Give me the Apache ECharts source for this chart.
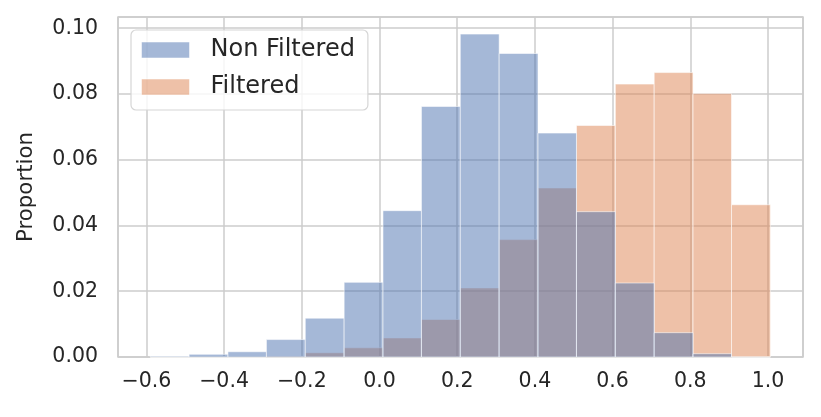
<!DOCTYPE html>
<html>
<head>
<meta charset="utf-8">
<script src="https://cdn.jsdelivr.net/npm/echarts@6/dist/echarts.min.js"></script>
<style>html,body{margin:0;padding:0;background:#fff;}#chart{width:821px;height:417px;}</style>
</head>
<body>
<div id="chart"></div>
<script>
// Bin edges (shared by both histograms)
const binEdges = [-0.590, -0.490, -0.390, -0.291, -0.191, -0.091, 0.009, 0.108, 0.208, 0.308, 0.408, 0.507, 0.607, 0.707, 0.807, 0.906, 1.006];
// Proportions per bin
const nonFiltered = [0.0002, 0.0008, 0.0016, 0.0053, 0.0118, 0.0227, 0.0445, 0.0762, 0.0982, 0.0923, 0.0681, 0.0442, 0.0225, 0.0074, 0.0010, 0.0000];
const filtered    = [0.0000, 0.0000, 0.0000, 0.0002, 0.0013, 0.0028, 0.0058, 0.0114, 0.0210, 0.0357, 0.0514, 0.0704, 0.0830, 0.0865, 0.0801, 0.0463];
const seriesNames = ['Non Filtered', 'Filtered'];
const xTickLabels = ['−0.6', '−0.4', '−0.2', '0.0', '0.2', '0.4', '0.6', '0.8', '1.0'];

const blueFill = 'rgba(76,114,176,0.5)';
const orangeFill = 'rgba(221,132,82,0.5)';

function histData(values) {
  return values.map((v, i) => [binEdges[i], binEdges[i + 1], v]);
}
function renderBin(fill) {
  return function (params, api) {
    const p0 = api.coord([api.value(0), api.value(2)]);
    const p1 = api.coord([api.value(1), 0]);
    return {
      type: 'rect',
      shape: { x: p0[0], y: p0[1], width: p1[0] - p0[0], height: p1[1] - p0[1] },
      style: { fill: fill, stroke: 'rgba(255,255,255,0.55)', lineWidth: 1 }
    };
  };
}
function fmtX(v) {
  const s = Math.abs(v).toFixed(1);
  return v < -1e-9 ? '−' + s : s;
}

const chart = echarts.init(document.getElementById('chart'), null, { renderer: 'canvas' });
chart.setOption({
  animation: false,
  grid: {
    left: 118, right: 18, top: 17, bottom: 60,
    show: true, borderColor: '#cccccc', borderWidth: 1.5, backgroundColor: 'transparent'
  },
  legend: {
    orient: 'vertical',
    left: 131, top: 30,
    padding: [8, 13, 11, 10],
    itemWidth: 48, itemHeight: 16, itemGap: 13,
    backgroundColor: 'rgba(255,255,255,0.8)',
    borderColor: '#d6d6d6', borderWidth: 1.2, borderRadius: 5,
    textStyle: { fontFamily: 'DejaVu Sans', fontSize: 24, color: '#262626', padding: [0, 0, 0, 16] },
    icon: 'rect',
    data: [
      { name: seriesNames[0], itemStyle: { color: blueFill, borderColor: 'rgba(255,255,255,0.5)', borderWidth: 1 } },
      { name: seriesNames[1], itemStyle: { color: orangeFill, borderColor: 'rgba(255,255,255,0.5)', borderWidth: 1 } }
    ]
  },
  xAxis: {
    type: 'value',
    min: -0.673, max: 1.09,
    splitNumber: 8,
    axisLine: { show: false },
    axisTick: { show: false },
    splitLine: { show: true, lineStyle: { color: '#cccccc', width: 1.5 } },
    axisLabel: {
      showMinLabel: false, showMaxLabel: false,
      margin: 14,
      fontFamily: 'DejaVu Sans', fontSize: 20.5, color: '#262626',
      formatter: function (v) {
        const s = fmtX(v);
        return xTickLabels.indexOf(s) >= 0 ? s : '';
      }
    }
  },
  yAxis: {
    type: 'value',
    min: 0, max: 0.1034,
    splitNumber: 5,
    name: 'Proportion',
    nameLocation: 'middle',
    nameGap: 81,
    nameTextStyle: { fontFamily: 'DejaVu Sans', fontSize: 21.3, color: '#262626' },
    axisLine: { show: false },
    axisTick: { show: false },
    splitLine: { show: true, lineStyle: { color: '#cccccc', width: 1.5 } },
    axisLabel: {
      showMaxLabel: false,
      margin: 20,
      fontFamily: 'DejaVu Sans', fontSize: 20.5, color: '#262626',
      formatter: function (v) { return v.toFixed(2); }
    }
  },
  series: [
    {
      name: seriesNames[1], type: 'custom', z: 2,
      itemStyle: { color: orangeFill },
      renderItem: renderBin(orangeFill),
      encode: { x: [0, 1], y: 2 },
      data: histData(filtered)
    },
    {
      name: seriesNames[0], type: 'custom', z: 3,
      itemStyle: { color: blueFill },
      renderItem: renderBin(blueFill),
      encode: { x: [0, 1], y: 2 },
      data: histData(nonFiltered)
    }
  ]
});
</script>
</body>
</html>
